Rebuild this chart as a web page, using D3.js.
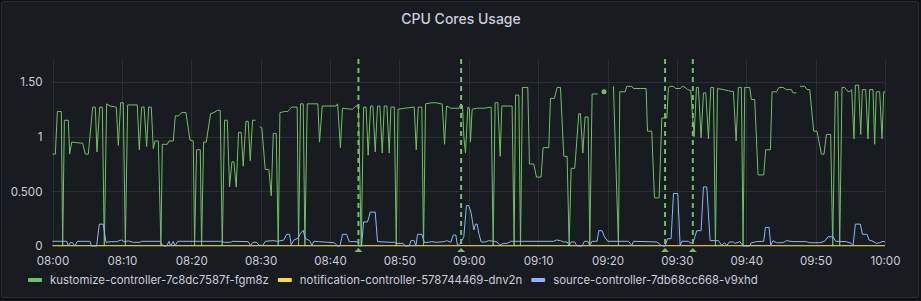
<!DOCTYPE html>
<html>
<head>
<meta charset="utf-8">
<script src="https://cdn.jsdelivr.net/npm/d3@7"></script>
<style>
body { margin: 0; background: #111217; }
svg { display: block; font-family: Inter, "Noto Sans", sans-serif; }
</style>
</head>
<body>
<div id="chart"></div>
<script>
// [minutes after 08:00, cores], null = gap in the series
var kustomize = [[0,0.84],[0.41,0.84],[0.70,1.23],[1.27,1.23],[1.47,0],[1.71,1.15],[2.28,1.15],[2.47,0.84],[2.76,0.95],[3.48,0.945],[4.35,0.94],[4.73,0.84],[5.16,0.84],[5.79,1.27],[6.17,1.27],[6.41,0.86],[6.8,1.27],[7.18,1.27],[7.47,0],[7.8,1.30],[8.29,1.28],[9.2,1.27],[9.49,0.92],[9.82,1.31],[10.2,1.31],[10.5,0],[10.83,1.29],[12.22,1.29],[12.51,0.88],[12.85,1.27],[13.2,1.27],[13.57,0.91],[13.86,1.27],[14.24,1.27],[14.53,0.89],[14.77,0.96],[15.25,0.96],[15.63,0],[15.83,0.93],[16.55,0.93],[16.79,0.96],[17.41,0.96],[17.7,1.19],[18.18,1.19],[18.61,1.22],[19.24,1.22],[19.81,0.97],[20.29,0.96],[20.48,0],[20.77,0.88],[21.3,0.88],[21.49,0],[21.78,0.95],[22.16,0.95],[22.79,1.21],[23.27,1.22],[23.75,1.24],[24.18,1.24],[24.47,0],[24.8,1.15],[25.19,1.15],[25.52,0.54],[25.86,0.77],[26.15,0.77],[26.48,0.54],[26.82,1.04],[27.2,1.04],[27.49,0.73],[27.88,1.14],[28.21,1.14],[28.5,0.78],[28.84,1.15],[29.27,1.15],[29.55,null],[29.85,1.09],[30.18,1.08],[30.66,0.70],[31.19,0.70],[31.53,0.46],[31.82,1.03],[32.25,1.03],[32.54,0],[32.78,1.22],[33.45,1.23],[33.93,1.23],[34.51,1.27],[35.27,1.27],[35.47,0],[35.75,1.30],[36.14,1.30],[36.38,0],[36.72,1.30],[38.25,1.30],[38.49,0.95],[38.88,1.28],[40.85,1.28],[41.1,1.30],[41.5,0.90],[41.8,1.26],[43.25,1.25],[43.73,1.28],[44.1,1.28],[44.5,0],[44.84,1.27],[45.2,1.27],[45.5,0.83],[45.85,1.28],[46.18,1.28],[46.52,0.86],[46.85,1.28],[47.19,1.28],[47.53,0.85],[47.82,1.28],[48.2,1.28],[48.54,0.85],[48.78,1.27],[49.26,1.27],[49.55,0],[49.8,1.25],[50.7,1.26],[52.14,1.27],[52.43,0.88],[52.72,1.27],[53.24,1.27],[53.48,0],[53.77,1.30],[54.68,1.31],[55.26,1.31],[55.98,1.30],[56.17,1.30],[56.51,0.93],[56.8,1.28],[57.42,1.26],[58.62,1.26],[58.86,1.30],[59.1,1.28],[59.29,1.0],[59.53,0.85],[59.87,1.27],[60.1,1.26],[60.25,0.95],[60.49,1.25],[61.2,1.26],[62.17,1.26],[63.23,1.27],[63.52,0],[63.8,1.31],[64.19,1.31],[64.53,0.82],[64.77,1.28],[66.25,1.28],[66.54,0],[66.74,1.38],[67.22,1.38],[67.46,0],[67.74,1.45],[68.51,1.45],[68.75,0.75],[69.38,0.75],[69.76,0.63],[70.43,0.63],[70.72,0.90],[71.54,0.90],[71.78,1.35],[72.35,1.35],[72.74,1.45],[73.22,1.45],[73.7,0.82],[74.18,0.82],[74.47,0],[74.76,0.71],[75.28,0.71],[75.86,1.21],[76.1,1.21],[76.44,0.85],[76.77,1.18],[77.2,1.18],[77.45,0],[77.78,1.39],[78.6,1.39],[79.0,null],[79.5,1.41],[80.2,null],[80.86,1.46],[81.58,0],[81.77,1.41],[82.54,1.41],[82.78,1.46],[83.5,1.46],[83.74,1.44],[84.7,1.44],[85.57,1.44],[85.76,1.05],[86.38,1.05],[86.77,0.44],[87.44,0.44],[87.83,1.17],[88.55,1.17],[88.79,1.45],[89.03,1.46],[89.5,1.46],[89.84,1.44],[90.47,1.44],[90.8,1.46],[91.19,1.45],[91.57,1.43],[92.0,1.42],[92.48,1.0],[92.82,1.45],[93.1,1.45],[93.49,0.99],[93.83,1.40],[94.17,1.40],[94.55,0.98],[94.89,1.45],[95.27,1.45],[95.56,0],[95.85,1.44],[96.71,1.43],[97.43,1.42],[98.15,1.41],[98.54,0.96],[98.87,1.45],[99.3,1.45],[99.54,0],[99.78,1.45],[100.5,1.45],[100.74,1.34],[101.22,1.34],[101.7,0.65],[102.52,0.65],[102.8,0.88],[103.48,0.88],[103.72,1.41],[104.34,1.41],[104.73,1.45],[105.3,1.45],[105.78,1.43],[106.5,1.43],[106.74,1.40],[107.23,1.40],[107.5,null],[107.75,1.46],[108.43,1.46],[108.76,1.43],[109.15,1.43],[109.72,1.05],[110.2,1.05],[110.83,0.84],[111.21,0.84],[111.55,1.02],[112.17,1.02],[112.46,0],[112.84,1.41],[113.18,1.41],[113.47,0],[113.8,1.45],[114.19,1.45],[114.53,1.42],[114.91,1.41],[115.2,1.43],[115.53,0.98],[115.73,1.47],[116.2,1.47],[116.5,1.02],[116.73,1.43],[117.22,1.43],[117.55,0.98],[117.79,1.43],[118.27,1.43],[118.51,0.93],[118.75,1.41],[119.23,1.41],[119.57,0.98],[119.81,1.41],[120,1.41]];

var notification = [[0,0.003],[30,0.003],[60,0.003],[90,0.003],[120,0.003]];

var source = [[0,0.043],[2.04,0.043],[2.28,0],[2.52,0.03],[2.9,0.03],[3.24,0],[3.58,0.043],[5.4,0.043],[5.64,0],[6.36,0],[6.75,0.2],[7.32,0.2],[7.71,0.034],[8.53,0.04],[9.25,0.04],[9.97,0.055],[10.3,0.04],[10.93,0.046],[11.65,0.034],[12.61,0.034],[12.85,0.043],[15.49,0.043],[15.97,0],[16.45,0],[16.79,0.043],[17.03,0],[17.41,0.043],[17.65,0],[18.04,0.043],[24.32,0.043],[24.8,0.034],[25.67,0.034],[26.0,0.043],[28.2,0.04],[28.55,0.006],[28.89,0.034],[29.37,0.034],[29.85,0.006],[30.33,0.006],[30.66,0.043],[31.77,0.049],[32.49,0.043],[33.35,0.055],[33.74,0.107],[34.17,0.107],[34.41,0.01],[34.79,0.055],[35.37,0.07],[35.75,0.116],[36.14,0.143],[36.43,0.07],[37.05,0.049],[37.39,0.006],[37.68,0.043],[40.61,0.03],[41.09,0],[41.43,0],[41.81,0.107],[42.39,0.107],[42.77,0.04],[43.97,0.04],[44.21,0],[44.55,0],[44.84,0.22],[45.41,0.22],[45.8,0.31],[46.52,0.31],[46.85,0.04],[48.78,0.034],[49.26,0.034],[49.64,0.024],[50.55,0.024],[50.84,0],[51.42,0],[51.66,0.049],[52.14,0.049],[52.38,0],[52.62,0.107],[53.24,0.107],[53.63,0.03],[54.68,0.04],[55.26,0.034],[56.46,0.04],[56.8,0.049],[57.42,0.034],[57.76,0.1],[58.14,0.1],[58.38,0],[58.72,0.024],[59.0,0.049],[59.29,0.085],[59.67,0.37],[60.0,0.37],[60.35,0.3],[60.73,0.146],[60.97,0.2],[61.21,0.2],[61.45,0.116],[61.79,0.037],[62.41,0.037],[62.89,0.049],[63.61,0.043],[64.09,0.037],[64.48,0.006],[64.96,0.024],[65.53,0.024],[66.02,0.043],[72.26,0.043],[72.64,0.055],[73.22,0.049],[73.7,0.037],[74.18,0.037],[74.47,0.006],[74.76,0.037],[75.24,0.037],[75.62,0],[76.34,0],[76.68,0.043],[77.16,0.043],[77.45,0.006],[77.78,0.043],[78.5,0.043],[78.74,0.14],[79.22,0.14],[79.56,0.085],[80.04,0.043],[83.02,0.043],[83.5,0.006],[83.74,0.043],[87.1,0.037],[87.73,0.006],[88.07,0],[88.31,0],[88.64,0.067],[89.17,0.067],[89.51,0.48],[90.13,0.48],[90.47,0],[90.71,0.043],[91.67,0.043],[92.05,0.024],[92.39,0.043],[92.87,0.14],[93.49,0.14],[93.83,0.54],[94.31,0.54],[94.79,0.049],[95.99,0.049],[96.47,0.006],[96.86,0.03],[97.19,0.006],[97.58,0.037],[98.15,0.037],[98.39,0.024],[98.97,0.037],[99.06,0.043],[99.54,0],[100.5,0],[100.74,0.03],[101.46,0.04],[102.52,0.043],[102.76,0.17],[103.29,0.17],[103.53,0.006],[103.86,0.049],[104.34,0.03],[105.3,0.03],[105.78,0.049],[106.74,0.04],[108.67,0.04],[109.15,0.03],[110.59,0.03],[111.31,0.043],[111.79,0.085],[112.51,0.085],[112.89,0.043],[114.43,0.04],[115.15,0.024],[115.39,0],[115.73,0.2],[116.45,0.2],[116.74,0.107],[117.41,0.107],[117.7,0.055],[118.27,0.043],[118.75,0.024],[119.23,0.03],[119.71,0.043],[120,0.037]];

var seriesNames = ["kustomize-controller-7c8dc7587f-fgm8z", "notification-controller-578744469-dnv2n", "source-controller-7db68cc668-v9xhd"];
var seriesColors = ["#73bf69", "#fade2a", "#8ab8ff"];
var annotationMinutes = [44.1, 58.9, 88.3, 92.3];
var yTicks = [0, 0.5, 1, 1.5];
var yTickLabels = ["0", "0.500", "1", "1.50"];

function init(){
    var w = 921, h = 301;
    var left = 52.5, right = 885, top = 59, bottom = 246; // plot area
    var start = new Date(2024, 0, 1, 8, 0, 0);
    var t = function(m){ return new Date(start.getTime() + m * 60000); };

    var x = d3.scaleTime().domain([t(0), t(120)]).range([left, right]);
    var y = d3.scaleLinear().domain([0, 1.71]).range([bottom, top]);

    var svg = d3.select("#chart").append("svg")
                .attr("width", w)
                .attr("height", h);

    // panel
    svg.append("rect")
        .attr("x", 1.5).attr("y", 1.5)
        .attr("width", w - 4).attr("height", h - 5)
        .attr("rx", 2)
        .attr("fill", "#181b1f")
        .attr("stroke", "rgba(204,204,220,0.12)");

    svg.append("text")
        .attr("x", 461).attr("y", 24)
        .attr("text-anchor", "middle")
        .attr("fill", "#ccccdc")
        .attr("font-size", 14)
        .attr("font-weight", 500)
        .text("CPU Cores Usage");

    // grid
    var xTicks = x.ticks(d3.timeMinute.every(10));
    svg.append("g").selectAll("line").data(xTicks).enter().append("line")
        .attr("x1", function(d){ return Math.round(x(d)) + 0.5; })
        .attr("x2", function(d){ return Math.round(x(d)) + 0.5; })
        .attr("y1", top).attr("y2", bottom)
        .attr("stroke", "rgba(204,204,220,0.1)");
    svg.append("g").selectAll("line").data(yTicks).enter().append("line")
        .attr("x1", left).attr("x2", right)
        .attr("y1", function(d){ return Math.round(y(d)) + 0.5; })
        .attr("y2", function(d){ return Math.round(y(d)) + 0.5; })
        .attr("stroke", "rgba(204,204,220,0.1)");

    // axes
    var xAxis = svg.append("g")
        .attr("transform", "translate(0," + (bottom + 2) + ")")
        .call(d3.axisBottom(x).tickValues(xTicks).tickSize(0).tickPadding(9).tickFormat(d3.timeFormat("%H:%M")));
    var yAxis = svg.append("g")
        .attr("transform", "translate(" + (left - 10) + ",0)")
        .call(d3.axisLeft(y).tickValues(yTicks).tickSize(0).tickPadding(0)
              .tickFormat(function(d, i){ return yTickLabels[i]; }));
    [xAxis, yAxis].forEach(function(a){
        a.select(".domain").remove();
        a.selectAll("text").attr("fill", "#ccccdc").attr("font-size", 11.6)
            .attr("font-family", "Inter, 'Noto Sans', sans-serif");
    });

    // series
    var line = d3.line()
        .defined(function(d){ return d[1] !== null; })
        .x(function(d){ return x(t(d[0])); })
        .y(function(d){ return y(d[1]); });

    [kustomize, notification, source].forEach(function(data, i){
        svg.append("path")
            .datum(data)
            .attr("fill", "none")
            .attr("stroke", seriesColors[i])
            .attr("stroke-width", 1)
            .attr("stroke-linejoin", "round")
            .attr("d", line);
        // lone points between gaps get a dot
        var lone = data.filter(function(d, j){
            return d[1] !== null && j > 0 && j < data.length - 1 &&
                   data[j - 1][1] === null && data[j + 1][1] === null;
        });
        svg.append("g").selectAll("circle").data(lone).enter().append("circle")
            .attr("cx", function(d){ return x(t(d[0])); })
            .attr("cy", function(d){ return y(d[1]); })
            .attr("r", 2.5)
            .attr("fill", seriesColors[i]);
    });

    // annotations
    var ann = svg.append("g").selectAll("g").data(annotationMinutes).enter().append("g");
    ann.append("line")
        .attr("x1", function(d){ return x(t(d)); })
        .attr("x2", function(d){ return x(t(d)); })
        .attr("y1", top).attr("y2", bottom)
        .attr("stroke", "#73bf69")
        .attr("stroke-width", 2)
        .attr("stroke-dasharray", "5,4");
    ann.append("path")
        .attr("d", function(d){
            var cx = x(t(d));
            return "M" + (cx - 4) + ",252L" + cx + ",248L" + (cx + 4) + ",252Z";
        })
        .attr("fill", "#73bf69");

    // legend
    var lx = 28;
    seriesNames.forEach(function(name, i){
        svg.append("rect")
            .attr("x", lx).attr("y", 278)
            .attr("width", 14).attr("height", 4)
            .attr("rx", 1)
            .attr("fill", seriesColors[i]);
        var txt = svg.append("text")
            .attr("x", lx + 22).attr("y", 284)
            .attr("fill", "#ccccdc")
            .attr("font-size", 11.4)
            .text(name);
        lx = lx + 22 + txt.node().getComputedTextLength() + 9;
    });
}
window.onload = init;
</script>
</body>
</html>
